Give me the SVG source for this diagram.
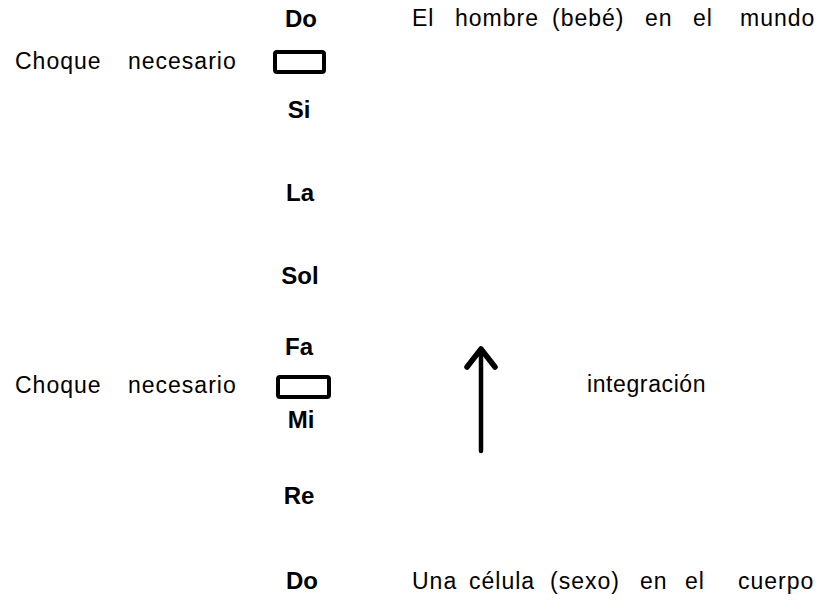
<svg xmlns="http://www.w3.org/2000/svg" width="819" height="609" viewBox="0 0 819 609">
<defs>
<style>
text{font-family:"Liberation Sans","Open Sans",sans-serif;fill:#000}
.note{font-size:24px;font-weight:bold;text-anchor:middle}
.lbl{font-size:23px;letter-spacing:1px}
.box{fill:#fff;stroke:#000;stroke-width:4}
.shaft{stroke:#000;stroke-width:4.5;fill:none;stroke-linecap:round}
.head{stroke:#000;stroke-width:5.5;fill:none;stroke-linecap:round;stroke-linejoin:round}
</style>
</defs>
<rect width="819" height="609" fill="#fff"/>
<g id="do-top"><text class="note" x="301" y="27">Do</text></g>
<g id="label-hombre"><text class="lbl" y="26"><tspan x="412">El</tspan><tspan x="455">hombre</tspan><tspan x="552">(bebé)</tspan><tspan x="645">en</tspan><tspan x="693">el</tspan><tspan x="740">mundo</tspan></text></g>
<g id="choque1">
<text class="lbl" y="69"><tspan x="15">Choque</tspan><tspan x="128">necesario</tspan></text>
<rect class="box" x="275" y="52" width="49" height="20" rx="2"/>
</g>
<g id="si"><text class="note" x="299" y="118">Si</text></g>
<g id="la"><text class="note" x="300" y="201">La</text></g>
<g id="sol"><text class="note" x="300" y="284">Sol</text></g>
<g id="fa"><text class="note" x="299" y="355">Fa</text></g>
<g id="choque2">
<text class="lbl" y="393"><tspan x="15">Choque</tspan><tspan x="128">necesario</tspan></text>
<rect class="box" x="278" y="377" width="51" height="20" rx="2"/>
</g>
<g id="mi"><text class="note" x="301" y="428">Mi</text></g>
<g id="re"><text class="note" x="299" y="504">Re</text></g>
<g id="do-bottom"><text class="note" x="302" y="589">Do</text></g>
<g id="label-celula"><text class="lbl" y="589"><tspan x="412">Una</tspan><tspan x="469">célula</tspan><tspan x="550">(sexo)</tspan><tspan x="640">en</tspan><tspan x="685">el</tspan><tspan x="738">cuerpo</tspan></text></g>
<g id="label-integracion"><text class="lbl" x="587" y="392" style="letter-spacing:0.6px">integración</text></g>
<g id="connectors">
<line class="shaft" x1="481" y1="451" x2="481" y2="352"/>
<polyline class="head" points="467,367 481,349 495,367"/>
</g>
</svg>
